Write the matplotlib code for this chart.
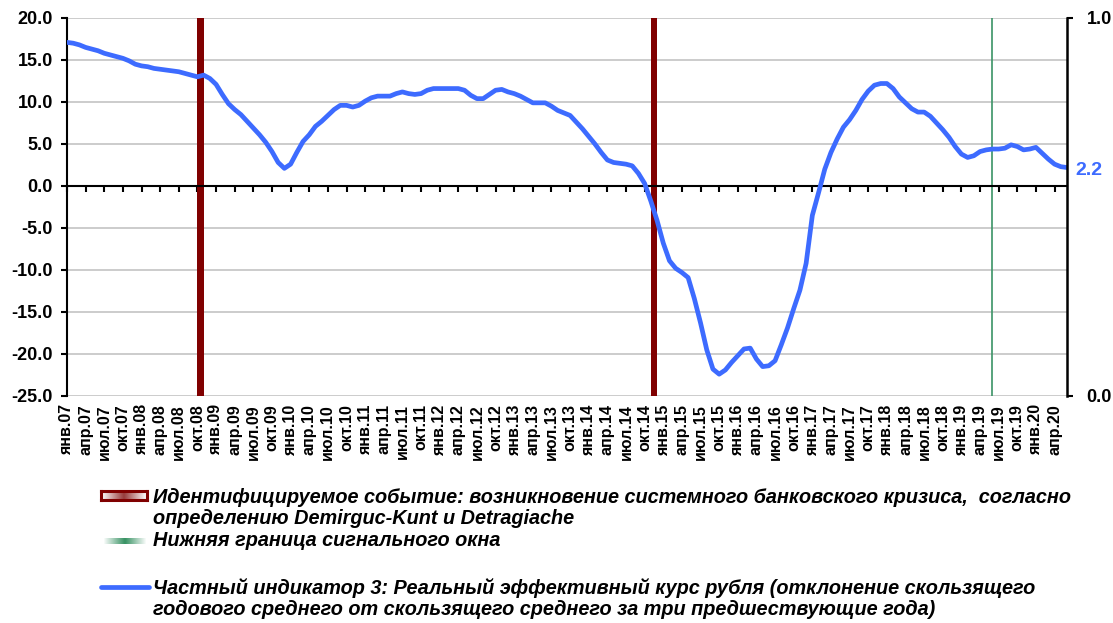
import numpy as np
import matplotlib
matplotlib.use("Agg")
import matplotlib.pyplot as plt
from matplotlib.colors import to_rgb
from matplotlib.lines import Line2D

plt.rcParams["font.family"] = ["Liberation Sans", "DejaVu Sans"]

# monthly series, янв.07 .. июн.20
start_year = 2007
month_names = ["янв", "фев", "мар", "апр", "май", "июн",
               "июл", "авг", "сен", "окт", "ноя", "дек"]
reer_gap = [
    17.1, 17.0, 16.8, 16.5, 16.3, 16.1, 15.8, 15.6, 15.4, 15.2, 14.9, 14.5,   # 2007
    14.3, 14.2, 14.0, 13.9, 13.8, 13.7, 13.6, 13.4, 13.2, 13.0, 13.2, 12.8,   # 2008
    12.1, 10.9, 9.8, 9.1, 8.5, 7.7, 6.9, 6.1, 5.2, 4.1, 2.8, 2.1,             # 2009
    2.6, 4.0, 5.3, 6.1, 7.1, 7.7, 8.4, 9.1, 9.6, 9.6, 9.4, 9.6,               # 2010
    10.1, 10.5, 10.7, 10.7, 10.7, 11.0, 11.2, 11.0, 10.9, 11.0, 11.4, 11.6,   # 2011
    11.6, 11.6, 11.6, 11.6, 11.4, 10.8, 10.4, 10.4, 10.9, 11.4, 11.5, 11.2,   # 2012
    11.0, 10.7, 10.3, 9.9, 9.9, 9.9, 9.5, 9.0, 8.7, 8.4, 7.6, 6.8,            # 2013
    5.9, 5.0, 4.0, 3.1, 2.8, 2.7, 2.6, 2.4, 1.5, 0.3, -1.8, -4.1,             # 2014
    -6.8, -8.9, -9.8, -10.3, -10.9, -13.4, -16.3, -19.5, -21.8, -22.4, -21.9, -21.0,  # 2015
    -20.2, -19.4, -19.3, -20.6, -21.5, -21.4, -20.8, -18.9, -16.9, -14.6, -12.4, -9.2,  # 2016
    -3.5, -0.8, 2.0, 4.0, 5.6, 7.0, 7.9, 9.0, 10.3, 11.3, 12.0, 12.2,         # 2017
    12.2, 11.6, 10.6, 9.9, 9.2, 8.8, 8.8, 8.3, 7.5, 6.7, 5.8, 4.7,            # 2018
    3.8, 3.4, 3.6, 4.1, 4.3, 4.4, 4.4, 4.5, 4.9, 4.7, 4.3, 4.4,               # 2019
    4.6, 3.9, 3.2, 2.6, 2.3, 2.2,                                             # 2020
]
crisis_months = [21, 94]      # окт.08, ноя.14
signal_lower_bound = 149      # июн.19

legend_crisis = ("Идентифицируемое событие: возникновение системного банковского кризиса,  согласно\n"
                 "определению Demirguc-Kunt и Detragiache")
legend_signal = "Нижняя граница сигнального окна"
legend_line = ("Частный индикатор 3: Реальный эффективный курс рубля (отклонение скользящего\n"
               "годового среднего от скользящего среднего за три предшествующие года)")

BLUE = "#3d6bff"
DARK_RED = "#800000"
GREEN = "#3b9466"

n = len(reer_gap)
x = np.arange(n)
tick_pos = list(range(0, n, 3))
tick_labels = ["{0}.{1:02d}".format(month_names[i % 12], (start_year + i // 12) % 100) for i in tick_pos]

W, H = 1113, 623
fig = plt.figure(figsize=(W / 100, H / 100), dpi=100, facecolor="w")
ax = fig.add_axes([67 / W, 1 - 396 / H, 1000 / W, 378 / H])

ax.set_xlim(0, n - 1)
ax.set_ylim(-25, 20)
ax.set_yticks(np.arange(-25, 21, 5))
ax.set_yticklabels(["{0:.1f}".format(v) for v in np.arange(-25, 21, 5)])
ax.yaxis.grid(True, color="#c4c4c4", linewidth=1.2)
ax.set_axisbelow(True)
ax.tick_params(axis="y", direction="out", length=4, width=1.5, labelsize=13, pad=6)
for lab in ax.get_yticklabels():
    lab.set_fontweight("bold")

for s in ["top", "right"]:
    ax.spines[s].set_visible(False)
ax.spines["left"].set_linewidth(1.5)
ax.spines["bottom"].set_position(("data", 0))
ax.spines["bottom"].set_linewidth(1.5)
ax.spines["bottom"].set_zorder(2.6)
ax.set_xticks(tick_pos)
ax.tick_params(axis="x", direction="out", length=4, width=1.5, labelbottom=False)

sec = ax.secondary_xaxis(0.0)
sec.set_xticks(tick_pos)
sec.set_xticklabels(tick_labels, rotation=90, fontsize=11.5, fontweight="bold")
sec.tick_params(length=0, pad=6)
sec.spines["bottom"].set_visible(False)

for m in crisis_months:
    ax.axvspan(m, m + 1, color=DARK_RED, zorder=2, linewidth=0)
ax.axvline(signal_lower_bound, color=GREEN, linewidth=1.2, zorder=2)

ax.plot(x, reer_gap, color=BLUE, linewidth=3.4, zorder=3, solid_capstyle="round")
ax.annotate("{0:.1f}".format(reer_gap[-1]), xy=(x[-1], reer_gap[-1]), xytext=(6, -2),
            textcoords="offset points", color=BLUE, fontsize=14, fontweight="bold",
            va="center", ha="left", annotation_clip=False)

ax2 = ax.twinx()
ax2.set_ylim(0, 1)
ax2.set_yticks([0, 1])
ax2.set_yticklabels(["0.0", "1.0"])
ax2.tick_params(axis="y", direction="out", length=4, width=1.5, labelsize=13, pad=10)
for lab in ax2.get_yticklabels():
    lab.set_fontweight("bold")
for s in ["top", "bottom", "left"]:
    ax2.spines[s].set_visible(False)
ax2.spines["right"].set_linewidth(1.8)


# legend, drawn by hand in pixel coordinates
def fy(y):
    return 1 - y / H


def swatch(x0, y0, w, h, color, border=None):
    # small horizontal gradient: white at the ends, colour in the middle
    prof = np.concatenate([np.linspace(0, 1, 20), np.linspace(1, 0, 20)])
    c = np.array(to_rgb(color))
    img = (1 - prof[:, None]) * np.ones(3) + prof[:, None] * c
    sax = fig.add_axes([x0 / W, fy(y0 + h), w / W, h / H])
    sax.imshow(img[None, :, :], aspect="auto", interpolation="bilinear")
    sax.set_xticks([])
    sax.set_yticks([])
    for s in sax.spines.values():
        if border:
            s.set_color(border)
            s.set_linewidth(2.2)
        else:
            s.set_visible(False)


swatch(101, 491, 46, 9, "#9a4040", border=DARK_RED)
swatch(103, 538, 44, 6, GREEN)
fig.lines.append(Line2D([101 / W, 149 / W], [fy(587), fy(587)], transform=fig.transFigure,
                        color=BLUE, linewidth=3.4, solid_capstyle="round"))

txt = dict(fontsize=14.3, fontweight="bold", fontstyle="italic", va="center", ha="left",
           linespacing=1.15)
fig.text(153 / W, fy(508), legend_crisis, **txt)
fig.text(153 / W, fy(541), legend_signal, **txt)
fig.text(153 / W, fy(598.5), legend_line, **txt)

fig.savefig("out.png", dpi=100, facecolor="w")
